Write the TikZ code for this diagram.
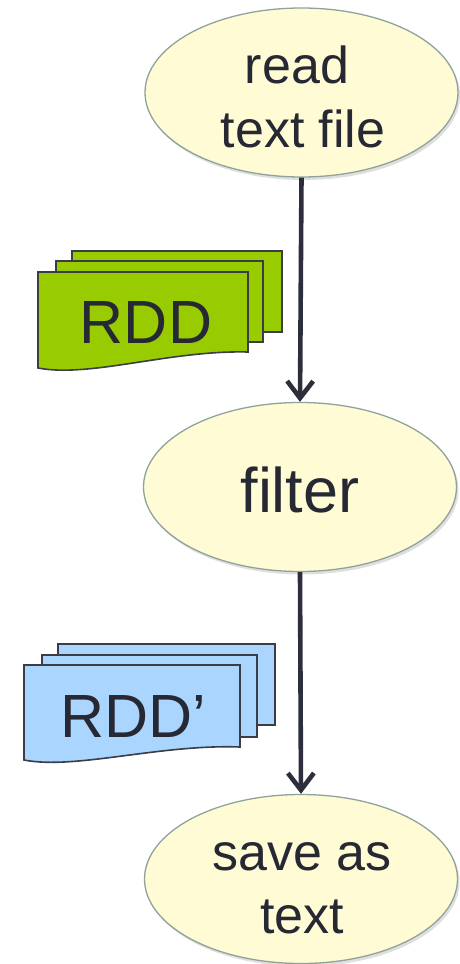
\documentclass[tikz,border=0pt]{standalone}
\usepackage{fontspec}
\setmainfont{Liberation Sans}
\usetikzlibrary{shapes.geometric,arrows.meta,shadows}
\definecolor{elfill}{HTML}{FFFBD4}
\definecolor{elborder}{HTML}{8FA39B}
\definecolor{ink}{HTML}{262833}
\definecolor{linecol}{HTML}{2C2E3C}
\definecolor{rddgreen}{HTML}{99CC00}
\definecolor{rddblue}{HTML}{A9D5FF}
\definecolor{sheetborder}{HTML}{3A3D45}
\tikzset{
  stepell/.style={ellipse, draw=elborder, line width=1.3pt, fill=elfill,
    minimum width=313pt, minimum height=169pt, inner sep=0pt,
    drop shadow={opacity=0.25, shadow xshift=2pt, shadow yshift=-3pt}},
  eltext/.style={anchor=base, text=ink, inner sep=0pt},
  sheet/.style={draw=sheetborder, line width=1.6pt, line join=miter},
  flow/.style={draw=linecol, line width=4.6pt,
    -{Straight Barb[length=17pt,width=26pt,line width=4.6pt]}},
}
\begin{document}
\begin{tikzpicture}[x=1pt,y=-1pt]
\useasboundingbox (0,0) rectangle (459,964);
% ellipses
\node[stepell] (read) at (301.5,92.5) {};
\node[stepell] (filter) at (300,487) {};
\node[stepell] (save) at (301,879) {};
% texts
\node[eltext, font=\fontsize{52}{62}\selectfont] (readA) at (297,83) {read};
\node[eltext, font=\fontsize{52}{62}\selectfont] (readB) at (303,147) {text file};
\node[eltext, font=\fontsize{63}{75}\selectfont] (filterT) at (300,512) {filter};
\node[eltext, font=\fontsize{52}{62}\selectfont] (saveA) at (302,870) {save as};
\node[eltext, font=\fontsize{52}{62}\selectfont] (saveB) at (302,933) {text};
% arrows
\draw[flow] (read.south) -- (filter.north);
\draw[flow] (filter.south) -- (save.north);
% green RDD stack
\draw[sheet, fill=rddgreen] (72,251) rectangle (282,332);
\draw[sheet, fill=rddgreen] (56,261) rectangle (263,342);
\draw[sheet, fill=rddgreen] (38,272) -- (248,272) -- (248,352)
  .. controls (170,350) and (90,378) .. (38,368) -- cycle;
\node[eltext, font=\fontsize{61}{72}\selectfont] (rdd) at (146,343) {RDD};
% blue RDD' stack
\draw[sheet, fill=rddblue] (58,644) rectangle (275,725);
\draw[sheet, fill=rddblue] (42,655) rectangle (257,737);
\draw[sheet, fill=rddblue] (24,665) -- (240,665) -- (240,747)
  .. controls (160,744) and (75,770) .. (24,760) -- cycle;
\node[eltext, font=\fontsize{61}{72}\selectfont] (rddp) at (133,737) {RDD’};
\end{tikzpicture}
\end{document}
